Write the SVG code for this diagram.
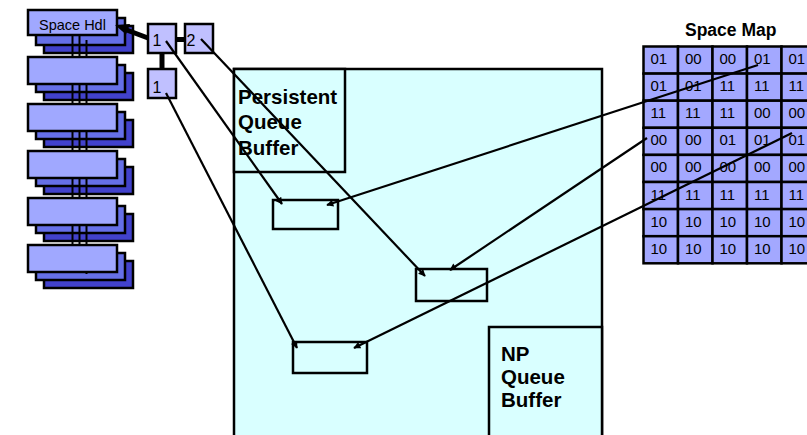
<svg xmlns="http://www.w3.org/2000/svg" width="807" height="435" viewBox="0 0 807 435">
  <defs>
    <style>
      .l1 { fill: #a0a8ff; stroke: #000; stroke-width: 2.5; }
      .l2 { fill: #6670e8; stroke: #000; stroke-width: 2.5; }
      .l3 { fill: #4242cc; stroke: #000; stroke-width: 2.5; }
      .node { fill: #c0c0ff; stroke: #000; stroke-width: 2.5; }
      .cell { fill: #a3a8ff; stroke: #000; stroke-width: 2.5; }
      .buf { fill: #d9ffff; stroke: #000; stroke-width: 2.5; }
      .slot { fill: none; stroke: #000; stroke-width: 2.5; }
      .link { stroke: #000; stroke-width: 2.2; fill: none; marker-end: url(#arr); }
      .thick { stroke: #000; stroke-width: 5; fill: none; }
      .spine { stroke: #000; stroke-width: 2; }
      .t { font-family: "Liberation Sans", Arial, sans-serif; fill: #000; }
      .big { font-size: 20.5px; font-weight: bold; }
      .num { font-size: 15px; }
    </style>
    <marker id="arr" viewBox="0 0 10 10" refX="9" refY="5" markerWidth="10" markerHeight="7" markerUnits="userSpaceOnUse" orient="auto">
      <path d="M0,0 L10,5 L0,10 z" fill="#000"/>
    </marker>
  </defs>

  <!-- queue buffer area -->
  <g id="buffer">
    <rect class="buf" x="234" y="69" width="368" height="380"/>
  </g>
  <g id="persistent">
    <rect class="buf" x="234" y="69" width="111" height="103"/>
    <text class="t big" x="238" y="104">Persistent</text>
    <text class="t big" x="238" y="129">Queue</text>
    <text class="t big" x="238" y="155">Buffer</text>
  </g>
  <g id="np">
    <rect class="buf" x="489" y="327" width="113" height="120"/>
    <text class="t big" x="501" y="361">NP</text>
    <text class="t big" x="501" y="384">Queue</text>
    <text class="t big" x="501" y="407">Buffer</text>
  </g>
  <g id="slot1"><rect class="slot" x="273" y="200" width="65" height="29"/></g>
  <g id="slot2"><rect class="slot" x="416" y="269" width="71" height="32"/></g>
  <g id="slot3"><rect class="slot" x="293" y="342" width="74" height="31"/></g>

  <!-- handle stack: back layers -->
  <g id="stack-back">
    <rect class="l3" x="44" y="26" width="89" height="27"/>
    <rect class="l3" x="44" y="73" width="89" height="27"/>
    <rect class="l3" x="44" y="120" width="89" height="27"/>
    <rect class="l3" x="44" y="167" width="89" height="27"/>
    <rect class="l3" x="44" y="214" width="89" height="27"/>
    <rect class="l3" x="44" y="261" width="89" height="27"/>
    <rect class="l2" x="36" y="18" width="89" height="27"/>
    <rect class="l2" x="36" y="65" width="89" height="27"/>
    <rect class="l2" x="36" y="112" width="89" height="27"/>
    <rect class="l2" x="36" y="159" width="89" height="27"/>
    <rect class="l2" x="36" y="206" width="89" height="27"/>
    <rect class="l2" x="36" y="253" width="89" height="27"/>
  </g>
  <g id="stack-spine">
    <line class="spine" x1="72.5" y1="24" x2="72.5" y2="258"/>
    <line class="spine" x1="79.5" y1="32" x2="79.5" y2="266"/>
    <line class="spine" x1="86.5" y1="40" x2="86.5" y2="274"/>
  </g>
  <g id="stack-front">
    <rect class="l1" x="28" y="10" width="89" height="25"/>
    <rect class="l1" x="28" y="57" width="89" height="27"/>
    <rect class="l1" x="28" y="104" width="89" height="27"/>
    <rect class="l1" x="28" y="151" width="89" height="27"/>
    <rect class="l1" x="28" y="198" width="89" height="27"/>
    <rect class="l1" x="28" y="245" width="89" height="27"/>
    <text class="t" x="39" y="29.5" font-size="14.5">Space Hdl</text>
  </g>

  <!-- handle nodes -->
  <g id="node1a">
    <rect class="node" x="148" y="24" width="28" height="29"/>
    <text class="t" x="152.5" y="46" font-size="16">1</text>
  </g>
  <g id="node2">
    <rect class="node" x="185" y="24" width="28" height="29"/>
    <text class="t" x="186.5" y="46" font-size="16">2</text>
  </g>
  <g id="node1b">
    <rect class="node" x="148" y="69" width="28" height="29"/>
    <text class="t" x="152.5" y="93" font-size="16">1</text>
  </g>

  <!-- space map -->
  <g id="spacemap">
    <text class="t" x="685" y="36" font-size="17.5" font-weight="bold">Space Map</text>
    <g id="map-cells">
      <rect class="cell" x="643.5" y="46.5" width="34.5" height="27.1"/>
      <rect class="cell" x="678" y="46.5" width="34.5" height="27.1"/>
      <rect class="cell" x="712.5" y="46.5" width="34.5" height="27.1"/>
      <rect class="cell" x="747" y="46.5" width="34.5" height="27.1"/>
      <rect class="cell" x="781.5" y="46.5" width="34.5" height="27.1"/>
      <rect class="cell" x="643.5" y="73.6" width="34.5" height="27.1"/>
      <rect class="cell" x="678" y="73.6" width="34.5" height="27.1"/>
      <rect class="cell" x="712.5" y="73.6" width="34.5" height="27.1"/>
      <rect class="cell" x="747" y="73.6" width="34.5" height="27.1"/>
      <rect class="cell" x="781.5" y="73.6" width="34.5" height="27.1"/>
      <rect class="cell" x="643.5" y="100.7" width="34.5" height="27.1"/>
      <rect class="cell" x="678" y="100.7" width="34.5" height="27.1"/>
      <rect class="cell" x="712.5" y="100.7" width="34.5" height="27.1"/>
      <rect class="cell" x="747" y="100.7" width="34.5" height="27.1"/>
      <rect class="cell" x="781.5" y="100.7" width="34.5" height="27.1"/>
      <rect class="cell" x="643.5" y="127.8" width="34.5" height="27.1"/>
      <rect class="cell" x="678" y="127.8" width="34.5" height="27.1"/>
      <rect class="cell" x="712.5" y="127.8" width="34.5" height="27.1"/>
      <rect class="cell" x="747" y="127.8" width="34.5" height="27.1"/>
      <rect class="cell" x="781.5" y="127.8" width="34.5" height="27.1"/>
      <rect class="cell" x="643.5" y="154.9" width="34.5" height="27.1"/>
      <rect class="cell" x="678" y="154.9" width="34.5" height="27.1"/>
      <rect class="cell" x="712.5" y="154.9" width="34.5" height="27.1"/>
      <rect class="cell" x="747" y="154.9" width="34.5" height="27.1"/>
      <rect class="cell" x="781.5" y="154.9" width="34.5" height="27.1"/>
      <rect class="cell" x="643.5" y="182" width="34.5" height="27.1"/>
      <rect class="cell" x="678" y="182" width="34.5" height="27.1"/>
      <rect class="cell" x="712.5" y="182" width="34.5" height="27.1"/>
      <rect class="cell" x="747" y="182" width="34.5" height="27.1"/>
      <rect class="cell" x="781.5" y="182" width="34.5" height="27.1"/>
      <rect class="cell" x="643.5" y="209.1" width="34.5" height="27.1"/>
      <rect class="cell" x="678" y="209.1" width="34.5" height="27.1"/>
      <rect class="cell" x="712.5" y="209.1" width="34.5" height="27.1"/>
      <rect class="cell" x="747" y="209.1" width="34.5" height="27.1"/>
      <rect class="cell" x="781.5" y="209.1" width="34.5" height="27.1"/>
      <rect class="cell" x="643.5" y="236.2" width="34.5" height="27.1"/>
      <rect class="cell" x="678" y="236.2" width="34.5" height="27.1"/>
      <rect class="cell" x="712.5" y="236.2" width="34.5" height="27.1"/>
      <rect class="cell" x="747" y="236.2" width="34.5" height="27.1"/>
      <rect class="cell" x="781.5" y="236.2" width="34.5" height="27.1"/>
    </g>
    <g id="map-values" class="t num">
      <text x="650.5" y="64">01</text><text x="685" y="64">00</text><text x="719.5" y="64">00</text><text x="754" y="64">01</text><text x="788.5" y="64">01</text>
      <text x="650.5" y="91.1">01</text><text x="685" y="91.1">01</text><text x="719.5" y="91.1">11</text><text x="754" y="91.1">11</text><text x="788.5" y="91.1">11</text>
      <text x="650.5" y="118.2">11</text><text x="685" y="118.2">11</text><text x="719.5" y="118.2">11</text><text x="754" y="118.2">00</text><text x="788.5" y="118.2">00</text>
      <text x="650.5" y="145.3">00</text><text x="685" y="145.3">00</text><text x="719.5" y="145.3">01</text><text x="754" y="145.3">01</text><text x="788.5" y="145.3">01</text>
      <text x="650.5" y="172.4">00</text><text x="685" y="172.4">00</text><text x="719.5" y="172.4">00</text><text x="754" y="172.4">00</text><text x="788.5" y="172.4">00</text>
      <text x="650.5" y="199.5">11</text><text x="685" y="199.5">11</text><text x="719.5" y="199.5">11</text><text x="754" y="199.5">11</text><text x="788.5" y="199.5">11</text>
      <text x="650.5" y="226.6">10</text><text x="685" y="226.6">10</text><text x="719.5" y="226.6">10</text><text x="754" y="226.6">10</text><text x="788.5" y="226.6">10</text>
      <text x="650.5" y="253.7">10</text><text x="685" y="253.7">10</text><text x="719.5" y="253.7">10</text><text x="754" y="253.7">10</text><text x="788.5" y="253.7">10</text>
    </g>
  </g>

  <!-- connectors -->
  <g id="connectors">
    <line class="thick" x1="148" y1="38" x2="124" y2="29"/>
    <path d="M126,34.5 L115,25 L130,24 z" fill="#000"/>
    <line class="thick" x1="176" y1="39.5" x2="185" y2="39.5"/>
    <line class="thick" x1="162" y1="53" x2="162" y2="69"/>
    <line class="link" x1="166" y1="41" x2="282" y2="204"/>
    <line class="link" x1="201" y1="39" x2="425" y2="276"/>
    <line class="link" x1="166" y1="93" x2="297" y2="348"/>
    <line class="link" x1="758" y1="65" x2="327" y2="205"/>
    <line class="link" x1="647" y1="138" x2="450" y2="270"/>
    <line class="link" x1="792" y1="133" x2="354" y2="348"/>
  </g>
</svg>
